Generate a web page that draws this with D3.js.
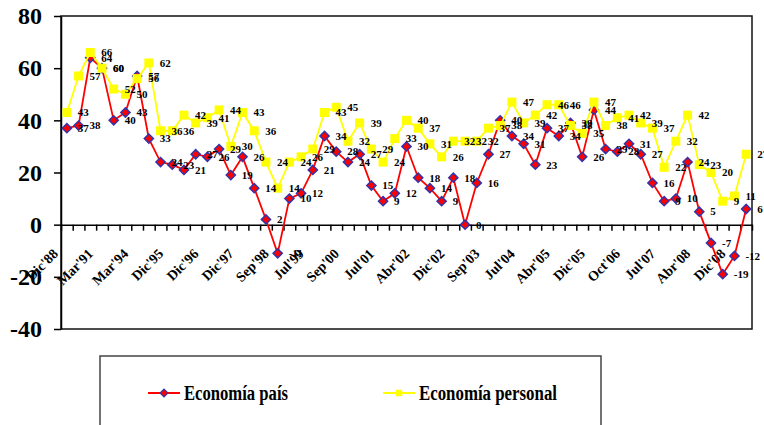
<!DOCTYPE html>
<html>
<head>
<meta charset="utf-8">
<script src="https://cdn.jsdelivr.net/npm/d3@7"></script>
<style>
  body { margin: 0; background: #fff; }
  svg text { font-family: "Liberation Serif", "Times New Roman", serif; font-weight: bold; }
</style>
</head>
<body>
<script>
// one value per period, 59 periods, labelled every third period
let economiaPais = [37, 38, 64, 60, 40, 43, 57, 33, 24, 23, 21, 27, 26, 29, 19, 26, 14, 2, -11, 10,
  12, 21, 34, 28, 24, 27, 15, 9, 12, 30, 18, 14, 9, 18, 0, 16, 27, 40, 34, 31,
  23, 37, 34, 39, 26, 44, 29, 28, 31, 27, 16, 9, 10, 24, 5, -7, -19, -12, 6];
let economiaPersonal = [43, 57, 66, 60, 52, 50, 56, 62, 36, 36, 42, 39, 41, 44, 30, 43, 36, 24, 14, 24,
  26, 29, 43, 45, 32, 39, 29, 24, 33, 40, 37, 31, 26, 32, 32, 32, 37, 38, 47, 39,
  42, 46, 46, 38, 35, 47, 38, 41, 42, 39, 37, 22, 32, 42, 23, 20, 9, 11, 27];
let tickLabels = ["Dic'88", "Mar'91", "Mar'94", "Dic'95", "Dic'96", "Dic'97", "Sep'98", "Jul'99", "Sep'00", "Jul'01",
  "Abr'02", "Dic'02", "Sep'03", "Jul'04", "Abr'05", "Dic'05", "Oct'06", "Jul'07", "Abr'08", "Dic'08"];
let yTicks = [-40, -20, 0, 20, 40, 60, 80];
let seriesNames = ["Economía país", "Economía personal"];

let width = 764;
let height = 425;
let margins = { top: 16, bottom: 96, left: 61, right: 12 };

let n = economiaPais.length;
let idx = d3.range(n);

let xScale = d3.scalePoint(idx, [margins.left, width - margins.right]).padding(0.5);
let xEdge = d3.scaleLinear([0, n], [margins.left, width - margins.right]);
let yScale = d3.scaleLinear([-40, 80], [height - margins.bottom, margins.top]);

let svg = d3.create('svg')
  .attr('width', width)
  .attr('height', height)
  .style('background', '#fff');

// plot frame
svg.append('rect')
  .attr('x', margins.left)
  .attr('y', margins.top)
  .attr('width', width - margins.left - margins.right)
  .attr('height', height - margins.top - margins.bottom)
  .attr('fill', 'none')
  .attr('stroke', '#111')
  .attr('stroke-width', 1.5);

// y axis
let yAxis = d3.axisLeft(yScale)
  .tickValues(yTicks)
  .tickFormat(d => String(d))
  .tickSize(7)
  .tickPadding(12)
  .tickSizeOuter(0);

svg.append('g')
  .attr('transform', `translate(${margins.left},0)`)
  .call(yAxis)
  .call(g => g.selectAll('line, path').attr('stroke', '#000').attr('stroke-width', 1.5))
  .call(g => g.attr('font-family', null).attr('font-size', null))
  .selectAll('text')
  .style('font-size', '24px')
  .attr('fill', '#000');

// category axis on the zero line, ticks between categories
let xAxis = d3.axisBottom(xEdge)
  .tickValues(d3.range(n + 1))
  .tickFormat('')
  .tickSize(6)
  .tickSizeOuter(0);

svg.append('g')
  .attr('transform', `translate(0,${yScale(0)})`)
  .call(xAxis)
  .call(g => g.selectAll('line, path').attr('stroke', '#000').attr('stroke-width', 1.5));

svg.append('g')
  .selectAll('text')
  .data(tickLabels)
  .join('text')
  .text(d => d)
  .attr('transform', (d, i) => `translate(${xScale(i * 3) - 8},${yScale(0) + 30}) rotate(-45)`)
  .attr('text-anchor', 'end')
  .style('font-size', '14px')
  .attr('fill', '#000');

// lines
let line = d3.line()
  .x((d, i) => xScale(i))
  .y(d => yScale(d));

svg.append('path')
  .datum(economiaPais)
  .attr('d', line)
  .attr('fill', 'none')
  .attr('stroke', '#ff0000')
  .attr('stroke-width', 1.8);

svg.append('g')
  .selectAll('path')
  .data(economiaPais)
  .join('path')
  .attr('d', d3.symbol(d3.symbolSquare, 42))
  .attr('transform', (d, i) => `translate(${xScale(i)},${yScale(d)}) rotate(45)`)
  .attr('fill', '#ff0000')
  .attr('stroke', '#3333aa')
  .attr('stroke-width', 1.5);

svg.append('path')
  .datum(economiaPersonal)
  .attr('d', line)
  .attr('fill', 'none')
  .attr('stroke', '#ffff00')
  .attr('stroke-width', 1.8);

svg.append('g')
  .selectAll('path')
  .data(economiaPersonal)
  .join('path')
  .attr('d', d3.symbol(d3.symbolSquare, 81))
  .attr('transform', (d, i) => `translate(${xScale(i)},${yScale(d)})`)
  .attr('fill', '#ffff00');

// data labels
[economiaPais, economiaPersonal].forEach(series => {
  svg.append('g')
    .selectAll('text')
    .data(series)
    .join('text')
    .text(d => d)
    .attr('x', (d, i) => xScale(i) + 11)
    .attr('y', d => yScale(d))
    .attr('dy', '0.35em')
    .style('font-size', '11px')
    .attr('fill', '#000');
});

// legend
let legend = svg.append('g');

legend.append('rect')
  .attr('x', 100)
  .attr('y', 356)
  .attr('width', 501)
  .attr('height', 100)
  .attr('fill', '#fff')
  .attr('stroke', '#444')
  .attr('stroke-width', 1.5);

let legendItems = [
  { name: seriesNames[0], x: 148, textX: 184, textLen: 104, color: '#ff0000', marker: 'diamond' },
  { name: seriesNames[1], x: 383, textX: 419, textLen: 138, color: '#ffff00', marker: 'square' }
];

legendItems.forEach(item => {
  legend.append('line')
    .attr('x1', item.x)
    .attr('x2', item.x + 32)
    .attr('y1', 393)
    .attr('y2', 393)
    .attr('stroke', item.color)
    .attr('stroke-width', 2);
  if (item.marker == 'diamond') {
    legend.append('path')
      .attr('d', d3.symbol(d3.symbolSquare, 30))
      .attr('transform', `translate(${item.x + 16},393) rotate(45)`)
      .attr('fill', item.color)
      .attr('stroke', '#3333aa')
      .attr('stroke-width', 1.2);
  } else {
    legend.append('path')
      .attr('d', d3.symbol(d3.symbolSquare, 42))
      .attr('transform', `translate(${item.x + 16},393)`)
      .attr('fill', item.color);
  }
  legend.append('text')
    .text(item.name)
    .attr('x', item.textX)
    .attr('y', 400)
    .attr('textLength', item.textLen)
    .attr('lengthAdjust', 'spacingAndGlyphs')
    .style('font-size', '20px')
    .attr('fill', '#000');
});

document.body.prepend(svg.node());
</script>
</body>
</html>
